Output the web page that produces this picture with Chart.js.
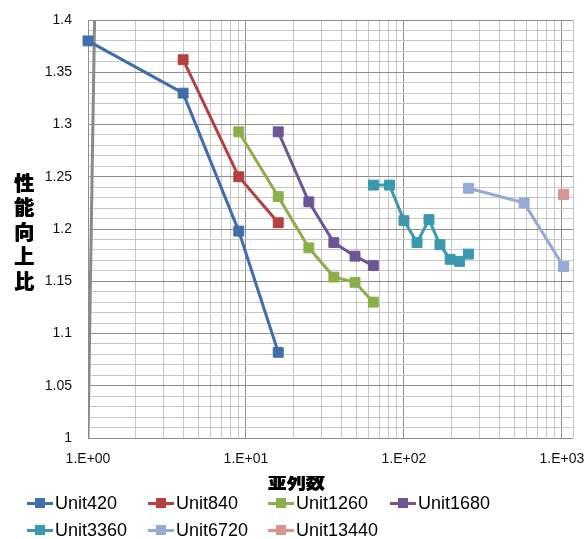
<!DOCTYPE html>
<html>
<head>
<meta charset="utf-8">
<script src="https://cdn.jsdelivr.net/npm/chart.js@4/dist/chart.umd.min.js"></script>
<style>
  html, body { margin: 0; padding: 0; background: #fff; }
  #wrap { position: relative; width: 584px; height: 539px; }
  #c { position: absolute; left: 0; top: 0; }
  .lg { position: absolute; height: 20px; display: flex; align-items: center;
        font: 18px "Liberation Sans", Arial, sans-serif; color: #000; white-space: nowrap; }
  .sym { position: relative; width: 26px; height: 10px; margin-right: 2px; }
  .sym .ln { position: absolute; left: 0; right: 0; top: 3.5px; height: 3px; }
  .sym .mk { position: absolute; left: 8px; top: 0; width: 10px; height: 10px; }
</style>
</head>
<body>
<div id="wrap">
  <canvas id="c" width="584" height="539"></canvas>
  <div id="legend"></div>
</div>
<script>
// Series: parallel count (x) vs. speed-up ratio (y)
const seriesNames = ['Unit420', 'Unit840', 'Unit1260', 'Unit1680', 'Unit3360', 'Unit6720', 'Unit13440'];
const seriesColors = ['#3F6EAA', '#B3423F', '#8CAF4B', '#6E5595', '#3B99AF', '#94ABD5', '#D69593'];

const x420 = [1, 4, 9, 16];
const y420 = [1.38, 1.33, 1.198, 1.082];
const x840 = [4, 9, 16];
const y840 = [1.362, 1.25, 1.206];
const x1260 = [9, 16, 25, 36, 49, 64];
const y1260 = [1.293, 1.231, 1.182, 1.154, 1.149, 1.13];
const x1680 = [16, 25, 36, 49, 64];
const y1680 = [1.293, 1.226, 1.187, 1.174, 1.165];
const x3360 = [64, 81, 100, 121, 144, 169, 196, 225, 256];
const y3360 = [1.242, 1.242, 1.208, 1.187, 1.209, 1.185, 1.171, 1.169, 1.176];
const x6720 = [256, 576, 1024];
const y6720 = [1.239, 1.225, 1.164];
const x13440 = [1024];
const y13440 = [1.233];

// grey reference line near x = 1
const xRef = [1, 1.1];
const yRef = [1, 1.4];

const xTickValues = [1,2,3,4,5,6,7,8,9,10,20,30,40,50,60,70,80,90,100,200,300,400,500,600,700,800,900,1000];
const xLabelValues = [1, 10, 100, 1000];
const xLabels = ['1.E+00', '1.E+01', '1.E+02', '1.E+03'];
const yTickValues = Array.from({length: 41}, (_, i) => (100 + i) / 100);
const yLabelValues = [1, 1.05, 1.1, 1.15, 1.2, 1.25, 1.3, 1.35, 1.4];
const yLabels = ['1', '1.05', '1.1', '1.15', '1.2', '1.25', '1.3', '1.35', '1.4'];

const xTitle = '並列数';
const yTitleChars = ['性', '能', '向', '上', '比'];

const xs = [x420, x840, x1260, x1680, x3360, x6720, x13440];
const ys = [y420, y840, y1260, y1680, y3360, y6720, y13440];

const pts = (a, b) => a.map((v, i) => ({x: v, y: b[i]}));

const datasets = seriesNames.map((name, i) => ({
  label: name,
  data: pts(xs[i], ys[i]),
  borderColor: seriesColors[i],
  backgroundColor: seriesColors[i],
  borderWidth: 3,
  pointStyle: 'rect',
  pointRadius: 7,
  pointBorderWidth: 1,
  pointBorderColor: seriesColors[i],
  pointBackgroundColor: seriesColors[i],
  tension: 0,
  clip: false
}));
datasets.push({
  label: 'ref',
  data: pts(xRef, yRef),
  borderColor: '#8a8a8a',
  borderWidth: 3,
  pointRadius: 0,
  tension: 0
});

const isMajorX = v => xLabelValues.some(m => Math.abs(m - v) < 1e-9);
const isMajorY = v => Math.round(v * 100) % 5 === 0;

const frameAndTitles = {
  id: 'frameAndTitles',
  beforeDatasetsDraw(chart) {
    const {ctx, chartArea: a} = chart;
    ctx.save();
    ctx.strokeStyle = '#c6c6c6';
    ctx.lineWidth = 1;
    ctx.beginPath();
    ctx.moveTo(Math.round(a.right) + 0.5, a.top);
    ctx.lineTo(Math.round(a.right) + 0.5, a.bottom);
    ctx.stroke();
    ctx.restore();
  },
  afterDraw(chart) {
    const {ctx} = chart;
    ctx.save();
    ctx.fillStyle = '#000';
    ctx.textAlign = 'center';
    ctx.textBaseline = 'middle';
    ctx.font = '900 20px "Noto Sans CJK JP", sans-serif';
    yTitleChars.forEach((ch, i) => {
      // double pass gives the heavier stroke of the title face
      ctx.fillText(ch, 24, 183 + i * 24.5);
      ctx.fillText(ch, 24.6, 183 + i * 24.5);
    });
    // the axis title sits partly under the legend band, so its top is cut
    ctx.beginPath();
    ctx.rect(0, 476, 584, 30);
    ctx.clip();
    ctx.font = '900 19px "Noto Sans CJK JP", sans-serif';
    ctx.fillText(xTitle, 296, 482);
    ctx.fillText(xTitle, 296.6, 482);
    ctx.restore();
  }
};

new Chart(document.getElementById('c'), {
  type: 'line',
  data: { datasets },
  plugins: [frameAndTitles],
  options: {
    responsive: false,
    animation: false,
    layout: { padding: { left: 0, top: 20, right: 11, bottom: 61 } },
    plugins: { legend: { display: false }, tooltip: { enabled: false } },
    scales: {
      x: {
        type: 'logarithmic',
        min: 1,
        max: 1175,
        afterBuildTicks: s => { s.ticks = xTickValues.map(v => ({value: v})); },
        afterFit: s => { s.height = 40; s.paddingLeft = 0; s.paddingRight = 0; },
        grid: {
          drawTicks: false,
          color: c => isMajorX(c.tick.value) ? '#8e8e8e' : '#c6c6c6',
          lineWidth: 1
        },
        border: { display: false },
        ticks: {
          autoSkip: false,
          maxRotation: 0,
          padding: 13,
          color: '#111',
          font: { family: '"Liberation Sans", Arial, sans-serif', size: 14 },
          callback: v => {
            const k = xLabelValues.findIndex(m => Math.abs(m - v) < 1e-9);
            return k >= 0 ? xLabels[k] : '';
          }
        }
      },
      y: {
        type: 'linear',
        min: 1,
        max: 1.4,
        afterBuildTicks: s => { s.ticks = yTickValues.map(v => ({value: v})); },
        afterFit: s => { s.width = 88; s.paddingTop = 0; s.paddingBottom = 0; },
        grid: {
          drawTicks: false,
          color: c => isMajorY(c.tick.value) ? '#8e8e8e' : '#c6c6c6',
          lineWidth: 1
        },
        border: { display: true, color: '#8e8e8e' },
        ticks: {
          autoSkip: false,
          padding: 16,
          color: '#111',
          font: { family: '"Liberation Sans", Arial, sans-serif', size: 14 },
          callback: v => {
            const k = yLabelValues.findIndex(m => Math.abs(m - v) < 1e-9);
            return k >= 0 ? yLabels[k] : '';
          }
        }
      }
    }
  }
});

// Legend, two rows
const legendCols = [27, 148, 268, 390];
const legendRows = [493, 520];
const legend = document.getElementById('legend');
seriesNames.forEach((name, i) => {
  const item = document.createElement('div');
  item.className = 'lg';
  item.style.left = legendCols[i % 4] + 'px';
  item.style.top = legendRows[Math.floor(i / 4)] + 'px';
  item.innerHTML = '<div class="sym"><div class="ln"></div><div class="mk"></div></div>';
  item.querySelector('.ln').style.background = seriesColors[i];
  item.querySelector('.mk').style.background = seriesColors[i];
  item.appendChild(document.createTextNode(name));
  legend.appendChild(item);
});
</script>
</body>
</html>
